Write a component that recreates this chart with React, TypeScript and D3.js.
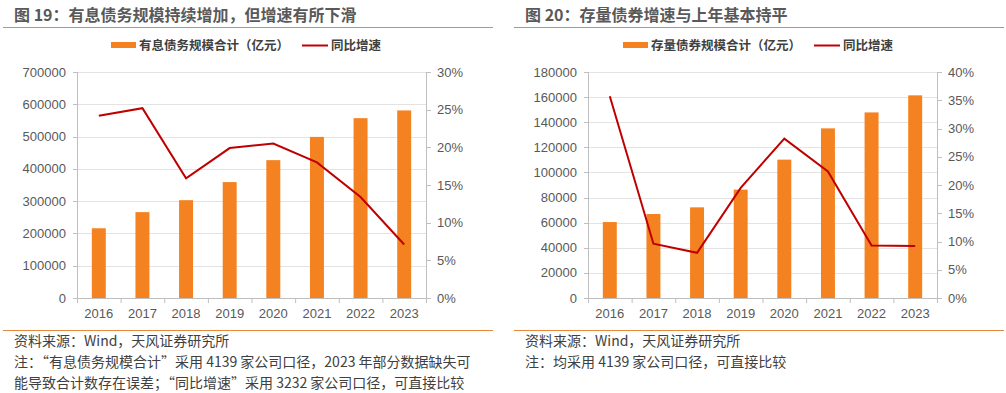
import * as d3 from "d3";

const years = ["2016", "2017", "2018", "2019", "2020", "2021", "2022", "2023"];

// 图19
const debtTotal = [216000, 266000, 303000, 359000, 427000, 499000, 557000, 581000];
const debtGrowth = [24.2, 25.2, 15.9, 19.9, 20.5, 18.0, 13.4, 7.1];

// 图20
const bondTotal = [60500, 66900, 72200, 86300, 110200, 135100, 147800, 161400];
const bondGrowth = [35.7, 9.6, 8.0, 19.5, 28.2, 22.4, 9.3, 9.2];

const leftTicks1 = [0, 100000, 200000, 300000, 400000, 500000, 600000, 700000];
const rightTicks1 = [0, 5, 10, 15, 20, 25, 30];
const leftTicks2 = [0, 20000, 40000, 60000, 80000, 100000, 120000, 140000, 160000, 180000];
const rightTicks2 = [0, 5, 10, 15, 20, 25, 30, 35, 40];

const ORANGE = "#f58220";
const RED = "#c00000";
const AXIS = "#bfbfbf";
const GRID = "#e3e3e3";
const CJK = "'Noto Sans CJK SC', sans-serif";
const NUM = "'Liberation Sans', Arial, sans-serif";

type PanelProps = {
  x0: number;
  title: string;
  barName: string;
  bars: number[];
  growth: number[];
  leftTicks: number[];
  rightTicks: number[];
  plotLeft: number;
  plotRight: number;
  legendX: number;
  notes: string[];
};

function Panel(p: PanelProps) {
  const top = 72;
  const bottom = 298;

  const x = d3.scaleBand<string>()
    .domain(years)
    .range([p.plotLeft, p.plotRight])
    .paddingInner(0.68)
    .paddingOuter(0.34);
  const step = x.step();
  const yL = d3.scaleLinear()
    .domain([0, d3.max(p.leftTicks) as number])
    .range([bottom, top]);
  const yR = d3.scaleLinear()
    .domain([0, d3.max(p.rightTicks) as number])
    .range([bottom, top]);

  const line = d3.line<number>()
    .x((_, i) => (x(years[i]) as number) + x.bandwidth() / 2)
    .y(d => yR(d));

  return (
    <g>
      {/* title */}
      <text x={p.x0 + 11} y={21} fontFamily={CJK} fontSize={16} fontWeight="bold" fill="#595959">
        {p.title}
      </text>
      <line x1={p.x0} x2={p.x0 + 490} y1={27.5} y2={27.5} stroke="#e8873a" strokeWidth={1} />

      {/* legend */}
      <rect x={p.legendX} y={42} width={25} height={6} fill={ORANGE} />
      <text x={p.legendX + 28} y={49.5} fontFamily={CJK} fontSize={12.5} fontWeight="bold" fill="#404040">
        {p.barName}
      </text>
      <line x1={p.legendX + 191} x2={p.legendX + 217} y1={45.5} y2={45.5} stroke={RED} strokeWidth={2} />
      <text x={p.legendX + 220} y={49.5} fontFamily={CJK} fontSize={12.5} fontWeight="bold" fill="#404040">
        同比增速
      </text>

      {/* grid */}
      {p.leftTicks.filter(t => t > 0).map(t => (
        <line key={t} x1={p.plotLeft} x2={p.plotRight} y1={Math.round(yL(t)) + 0.5} y2={Math.round(yL(t)) + 0.5} stroke={GRID} />
      ))}

      {/* bars */}
      {p.bars.map((v, i) => (
        <rect key={i} x={x(years[i])} y={yL(v)} width={x.bandwidth()} height={bottom - yL(v)} fill={ORANGE} />
      ))}

      {/* axes */}
      <line x1={p.plotLeft + 0.5} x2={p.plotLeft + 0.5} y1={top} y2={bottom} stroke={AXIS} />
      <line x1={p.plotRight + 0.5} x2={p.plotRight + 0.5} y1={top} y2={bottom} stroke={AXIS} />
      <line x1={p.plotLeft} x2={p.plotRight} y1={bottom + 0.5} y2={bottom + 0.5} stroke={AXIS} />
      {years.map((yr, i) => (
        <line key={yr} x1={p.plotLeft + step * i + 0.5} x2={p.plotLeft + step * i + 0.5} y1={bottom} y2={bottom + 5} stroke={AXIS} />
      ))}
      <line x1={p.plotRight + 0.5} x2={p.plotRight + 0.5} y1={bottom} y2={bottom + 5} stroke={AXIS} />
      {p.leftTicks.map(t => (
        <line key={t} x1={p.plotLeft - 4} x2={p.plotLeft} y1={Math.round(yL(t)) + 0.5} y2={Math.round(yL(t)) + 0.5} stroke={AXIS} />
      ))}
      {p.rightTicks.map(t => (
        <line key={t} x1={p.plotRight} x2={p.plotRight + 5} y1={Math.round(yR(t)) + 0.5} y2={Math.round(yR(t)) + 0.5} stroke={AXIS} />
      ))}

      {/* tick labels */}
      {p.leftTicks.map(t => (
        <text key={t} x={p.plotLeft - 11} y={yL(t) + 4.5} textAnchor="end" fontFamily={NUM} fontSize={13} fill="#595959">
          {t}
        </text>
      ))}
      {p.rightTicks.map(t => (
        <text key={t} x={p.plotRight + 11} y={yR(t) + 4.5} fontFamily={NUM} fontSize={13} fill="#595959">
          {t + "%"}
        </text>
      ))}
      {years.map(yr => (
        <text key={yr} x={(x(yr) as number) + x.bandwidth() / 2} y={318} textAnchor="middle" fontFamily={NUM} fontSize={13} fill="#595959">
          {yr}
        </text>
      ))}

      {/* growth line */}
      <path d={line(p.growth) as string} fill="none" stroke={RED} strokeWidth={2} />

      {/* footer */}
      <line x1={p.x0} x2={p.x0 + 490} y1={330.5} y2={330.5} stroke="#e8873a" strokeWidth={1} />
      {p.notes.map((n, i) => (
        <text key={i} x={p.x0 + 11} y={346 + i * 21} fontFamily={CJK} fontSize={14} fill="#404040">
          {n}
        </text>
      ))}
    </g>
  );
}

export default function App() {
  return (
    <svg width={1006} height={393} viewBox="0 0 1006 393"
      style={{ position: "absolute", left: 0, top: 0, background: "#fff" }}>
      <rect width={1006} height={393} fill="#fff" />
      <Panel
        x0={3}
        title="图 19：有息债务规模持续增加，但增速有所下滑"
        barName="有息债务规模合计（亿元）"
        bars={debtTotal}
        growth={debtGrowth}
        leftTicks={leftTicks1}
        rightTicks={rightTicks1}
        plotLeft={77}
        plotRight={426}
        legendX={111}
        notes={[
          "资料来源：Wind，天风证券研究所",
          "注：“有息债务规模合计”采用 4139 家公司口径，2023 年部分数据缺失可",
          "能导致合计数存在误差；“同比增速”采用 3232 家公司口径，可直接比较",
        ]}
      />
      <Panel
        x0={514}
        title="图 20：存量债券增速与上年基本持平"
        barName="存量债券规模合计（亿元）"
        bars={bondTotal}
        growth={bondGrowth}
        leftTicks={leftTicks2}
        rightTicks={rightTicks2}
        plotLeft={588}
        plotRight={937}
        legendX={623}
        notes={[
          "资料来源：Wind，天风证券研究所",
          "注：均采用 4139 家公司口径，可直接比较",
        ]}
      />
    </svg>
  );
}
